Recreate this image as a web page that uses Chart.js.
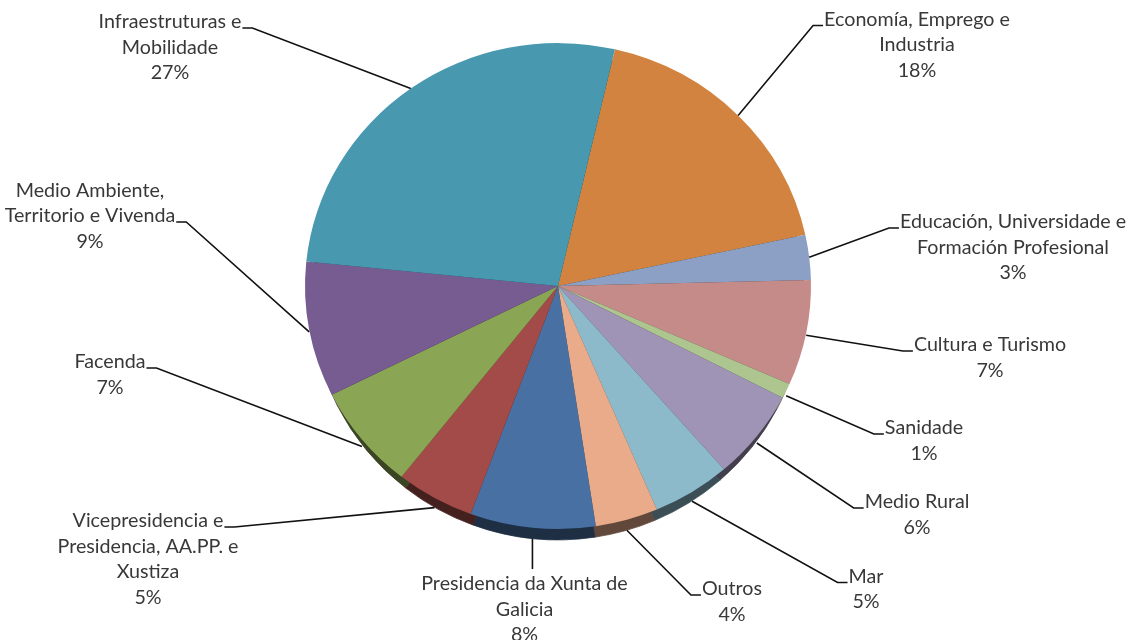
<!DOCTYPE html>
<html>
<head>
<meta charset="utf-8">
<script src="https://cdn.jsdelivr.net/npm/chart.js@4.4.1/dist/chart.umd.min.js"></script>
<style>
  html, body { margin: 0; padding: 0; background: #ffffff; }
  #wrap { width: 1136px; height: 640px; position: relative; }
</style>
</head>
<body>
<div id="wrap"><canvas id="budget"></canvas></div>
<script>
// Departments, clockwise from the top of the pie
const categories = [
  ['Economía, Emprego e', 'Industria'],
  ['Educación, Universidade e', 'Formación Profesional'],
  ['Cultura e Turismo'],
  ['Sanidade'],
  ['Medio Rural'],
  ['Mar'],
  ['Outros'],
  ['Presidencia da Xunta de', 'Galicia'],
  ['Vicepresidencia e', 'Presidencia, AA.PP. e', 'Xustiza'],
  ['Facenda'],
  ['Medio Ambiente,', 'Territorio e Vivenda'],
  ['Infraestruturas e', 'Mobilidade']
];

// Share of the total (%)
const shares = [18, 3, 7, 1, 6, 5, 4, 8, 5, 7, 9, 27];

const sliceColors = [
  '#D2833F', '#8BA0C4', '#C58B89', '#ADC58F', '#9F94B5', '#8DBACA',
  '#E9AB89', '#4870A2', '#A34B48', '#8AA553', '#775C92', '#4898B0'
];

// Where each label block sits: centre x, first line y, which side the
// leader tick attaches to and on which text line
const labelLayout = [
  { x: 917,  y: 19.5, side: 'left',  line: 0 },
  { x: 1013, y: 222,  side: 'left',  line: 0 },
  { x: 990,  y: 345,  side: 'left',  line: 0 },
  { x: 924,  y: 428,  side: 'left',  line: 0 },
  { x: 917,  y: 502,  side: 'left',  line: 0 },
  { x: 866,  y: 576.5,side: 'left',  line: 0 },
  { x: 732,  y: 589,  side: 'left',  line: 0 },
  { x: 524.5,y: 584,  side: 'top',   line: 0 },
  { x: 148,  y: 521,  side: 'right', line: 0 },
  { x: 110,  y: 362,  side: 'right', line: 0 },
  { x: 90,   y: 190.5,side: 'right', line: 1 },
  { x: 170,  y: 22,   side: 'right', line: 0 }
];

const TILT = 0.96;      // vertical squash of the pie face
const SIDE = 11;        // thickness of the visible rim at the front
const RIM_X = 0.975;    // rim narrows so it fades out towards the sides
const LINE = 25.5;      // label line spacing
const FONT = '19.7px Lato, "Open Sans", sans-serif';
const TEXT = '#383838';

function darken(hex, f) {
  const n = parseInt(hex.slice(1), 16);
  const r = Math.round(((n >> 16) & 255) * f);
  const g = Math.round(((n >> 8) & 255) * f);
  const b = Math.round((n & 255) * f);
  return `rgb(${r},${g},${b})`;
}
const rimColors = sliceColors.map(c => darken(c, 0.42));

// Squash the pie vertically and paint the rim underneath it
const tiltPlugin = {
  id: 'tilt',
  beforeDatasetsDraw(chart) {
    const ctx = chart.ctx;
    const arcs = chart.getDatasetMeta(0).data;
    const cx = arcs[0].x, cy = arcs[0].y;
    ctx.save();
    ctx.translate(0, cy);
    ctx.scale(1, TILT);
    ctx.translate(0, -cy);

    ctx.save();
    ctx.translate(cx, cy + SIDE / TILT);
    ctx.scale(RIM_X, 1);
    arcs.forEach((a, i) => {
      ctx.beginPath();
      ctx.moveTo(0, 0);
      ctx.arc(0, 0, a.outerRadius, a.startAngle, a.endAngle);
      ctx.closePath();
      ctx.fillStyle = rimColors[i];
      ctx.strokeStyle = rimColors[i];
      ctx.lineWidth = 0.8;
      ctx.fill();
      ctx.stroke();
    });
    ctx.restore();
  },
  afterDatasetsDraw(chart) {
    chart.ctx.restore();
  }
};

// Category and percentage labels with leader lines
const labelPlugin = {
  id: 'sliceLabels',
  afterDraw(chart) {
    const ctx = chart.ctx;
    const arcs = chart.getDatasetMeta(0).data;
    const total = shares.reduce((s, v) => s + v, 0);
    ctx.save();
    ctx.font = FONT;
    ctx.fillStyle = TEXT;
    ctx.textAlign = 'center';
    ctx.textBaseline = 'middle';
    ctx.strokeStyle = '#111111';
    ctx.lineWidth = 1.6;
    arcs.forEach((a, i) => {
      const lay = labelLayout[i];
      const lines = categories[i].concat([Math.round(shares[i] / total * 100) + '%']);
      lines.forEach((t, j) => ctx.fillText(t, lay.x, lay.y + j * LINE));

      const mid = (a.startAngle + a.endAngle) / 2;
      const sy = Math.sin(mid);
      const px = a.x + a.outerRadius * Math.cos(mid);
      const py = a.y + TILT * a.outerRadius * sy + SIDE * Math.max(0, sy);
      ctx.beginPath();
      ctx.moveTo(px, py);
      if (lay.side === 'top') {
        ctx.lineTo(px, lay.y - 15);
      } else {
        const w = ctx.measureText(lines[lay.line]).width;
        const ty = lay.y + lay.line * LINE + 6;
        const edge = lay.side === 'left' ? lay.x - w / 2 - 1 : lay.x + w / 2 + 1;
        const far = lay.side === 'left' ? edge - 10 : edge + 10;
        ctx.lineTo(far, ty);
        ctx.lineTo(edge, ty);
      }
      ctx.stroke();
    });
    ctx.restore();
  }
};

new Chart(document.getElementById('budget'), {
  type: 'pie',
  data: {
    labels: categories,
    datasets: [{
      data: shares,
      backgroundColor: sliceColors,
      borderWidth: 0,
      hoverOffset: 0,
      offset: 0,
      clip: false
    }]
  },
  options: {
    responsive: true,
    maintainAspectRatio: false,
    animation: false,
    events: [],
    rotation: 13,
    layout: { padding: { left: 305, right: 325, top: 33, bottom: 101 } },
    plugins: {
      legend: { display: false },
      tooltip: { enabled: false }
    }
  },
  plugins: [tiltPlugin, labelPlugin]
});
</script>
</body>
</html>
